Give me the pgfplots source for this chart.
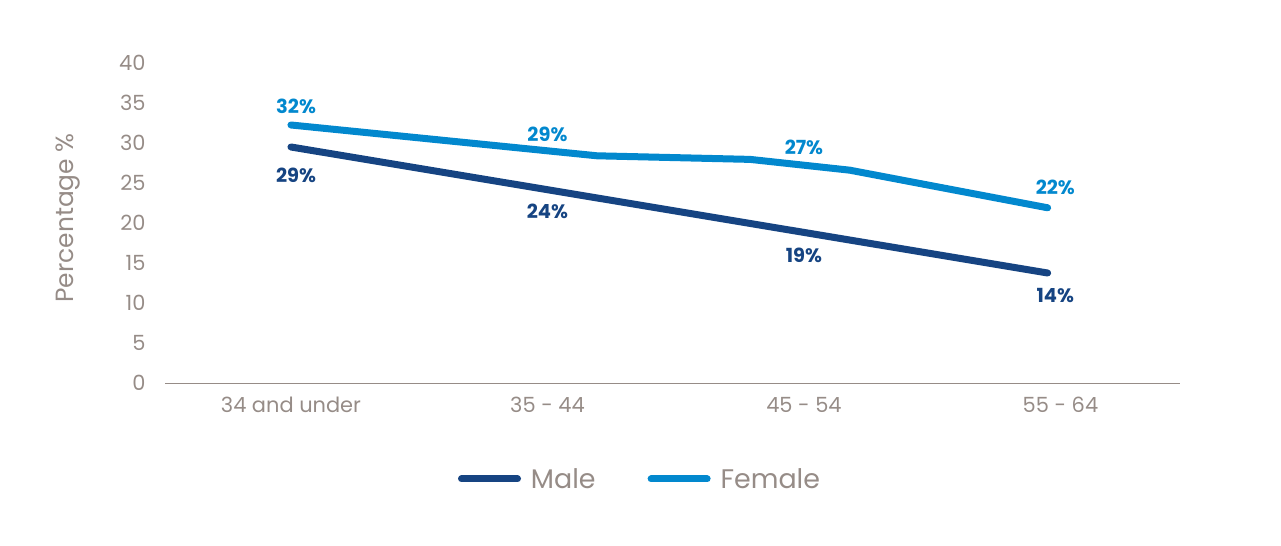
\documentclass[border=0pt]{standalone}
\usepackage{fontspec}
\setmainfont{Poppins}
\usepackage{pgfplots}
\pgfplotsset{compat=1.18}
\definecolor{male}{RGB}{22,68,130}
\definecolor{female}{RGB}{2,136,206}
\definecolor{txtgray}{RGB}{150,140,135}

\begin{document}
\begin{tikzpicture}[x=1bp,y=1bp]
\useasboundingbox (0,0) rectangle (1281,546);
\begin{axis}[
  at={(165bp,163bp)}, anchor=south west,
  scale only axis, width=1015bp, height=320bp,
  xmin=-0.491, xmax=3.466, ymin=0, ymax=40,
  axis x line*=bottom, axis y line*=left,
  x axis line style={draw=txtgray, line width=0.8bp, -},
  y axis line style={draw=none},
  major tick length=0pt,
  ytick={0,5,...,40},
  xtick={0,1,2,3},
  xticklabels={34 and under,35 - 44,45 - 54,55 - 64},
  tick label style={font=\fontsize{21}{21}\selectfont, text=txtgray},
  /pgf/number format/assume math mode=true,
  yticklabel style={xshift=-16bp},
  xticklabel style={yshift=-11bp},
  ylabel={Percentage \%},
  every axis y label/.style={at={(rel axis cs:0,0.516)}, xshift=-97bp,
    rotate=90, anchor=center, font=\fontsize{25}{25}\selectfont, text=txtgray},
  clip=false,
  legend style={at={(rel axis cs:0.468,-0.30)}, anchor=center, draw=none,
    font=\fontsize{27}{27}\selectfont, text=txtgray,
    /tikz/every even column/.append style={column sep=50bp}},
  legend columns=2,
  legend image code/.code={\draw[#1, line width=7bp, line cap=round] (0bp,0bp) -- (56bp,0bp);
    \path (64bp,0bp);},
]
\addplot[male, line width=7bp, line cap=round, line join=round]
  coordinates {(0,29.5) (2.95,13.75)};
\addplot[female, line width=7bp, line cap=round, line join=round]
  coordinates {(0,32.25) (1.193,28.4) (1.79,27.95) (2.179,26.6) (2.95,21.9)};

% data labels
\begin{scope}[every node/.style={font=\fontsize{19.5}{19.5}\selectfont\bfseries}]
\node[text=female] at (axis cs:0.02,34.6) {32\%};
\node[text=female] at (axis cs:1.0,31.1) {29\%};
\node[text=female] at (axis cs:2.0,29.5) {27\%};
\node[text=female] at (axis cs:2.98,24.4) {22\%};
\node[text=male] at (axis cs:0.02,25.9) {29\%};
\node[text=male] at (axis cs:1.0,21.4) {24\%};
\node[text=male] at (axis cs:2.0,15.9) {19\%};
\node[text=male] at (axis cs:2.98,10.9) {14\%};
\end{scope}

\legend{Male, Female}
\end{axis}
\end{tikzpicture}
\end{document}
